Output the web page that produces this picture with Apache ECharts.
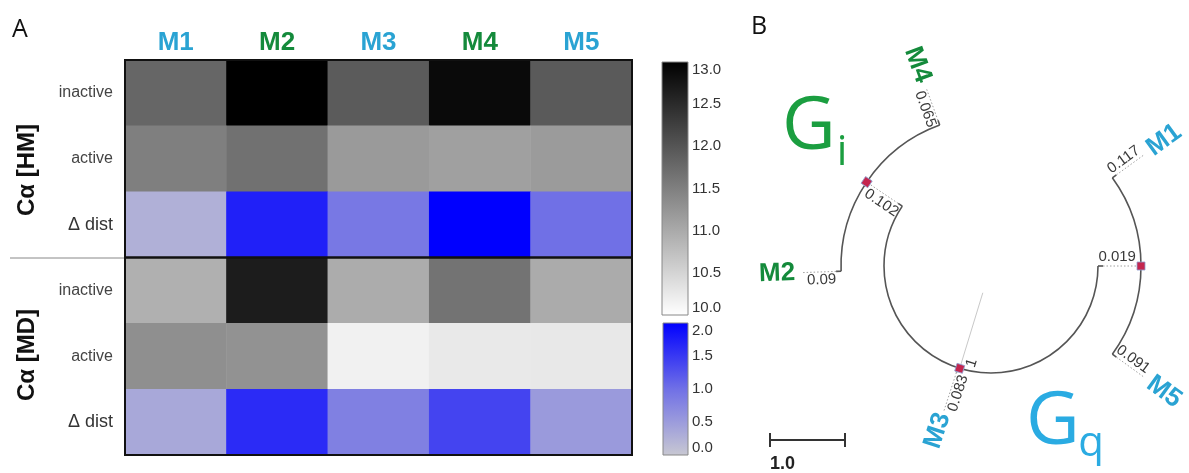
<!DOCTYPE html>
<html><head><meta charset="utf-8">
<script src="https://cdn.jsdelivr.net/npm/echarts@6/dist/echarts.min.js"></script>
<style>html,body{margin:0;padding:0;background:#fff}#c{width:1189px;height:473px}</style>
</head><body><div id="c"></div>
<script>
// ================= DATA =================
// Panel A – heatmap
const models      = ['M1', 'M2', 'M3', 'M4', 'M5'];
const modelFamily = ['q', 'i', 'q', 'i', 'q'];
const rowNames    = ['inactive', 'active', 'Δ dist', 'inactive', 'active', 'Δ dist'];
const blockNames  = ['Cα [HM]', 'Cα [MD]'];
const hmInactive  = [11.80, 13.00, 11.93, 12.88, 11.94];
const hmActive    = [11.51, 11.67, 11.19, 11.12, 11.18];
const hmDelta     = [0.27, 1.71, 0.91, 2.00, 1.00];
const mdInactive  = [10.93, 12.67, 10.98, 11.65, 10.99];
const mdActive    = [11.32, 11.28, 10.16, 10.26, 10.27];
const mdDelta     = [0.36, 1.62, 0.82, 1.39, 0.52];
const distRange   = [10, 13];
const deltaRange  = [0, 2];
const tickStep    = 0.5;

// Panel B – circular tree
const leafNames   = ['M1', 'M2', 'M3', 'M4', 'M5'];
const leafFamily  = ['q', 'i', 'q', 'i', 'q'];
const leafAngles  = [324, 178, 108, 250, 36];
const leafLengths = ['0.117', '0.09', '0.083', '0.065', '0.091'];
const cladeNames  = ['Gq', 'Gi'];
const cladeLeaves = [[0, 4], [1, 3]];       // first / last leaf, clockwise
const cladeLengths = ['0.019', '0.102'];
const rootLeaves  = [2];                    // leaves attached directly to the root
const rootSupport = '1';
const scaleBarLabel = '1.0';

// ================= STYLE =================
const FONT = '"Liberation Sans", Arial, sans-serif';
const BLUE = '#2aa3d3', GREEN = '#148a3b';
const famColor = f => f === 'q' ? BLUE : GREEN;
const grayColors = ['#ffffff', '#000000'];
const blueColors = ['#c8c8d2', '#7070e6', '#0000ff'];

// ================= HEATMAP DATA =================
const rowKeys = rowNames.map((n, i) => i + ':' + n);
const grayData = [], blueData = [];
[hmInactive, hmActive, hmDelta, mdInactive, mdActive, mdDelta].forEach((row, r) => {
  row.forEach((v, c) => ((r % 3 === 2) ? blueData : grayData).push([c, r, v]));
});

// ================= TREE LAYOUT =================
const R = {stem: 28, root: 107, clade: 150, stub: 5, leafDot: 190, leafText: 196, directDot: 45, directText: 48};
const norm = a => ((a % 360) + 360) % 360;
const cladeSpan = cladeLeaves.map(([s, e]) => {
  let a0 = leafAngles[s], a1 = leafAngles[e];
  if (a1 < a0) a1 += 360;
  return [a0, a1];
});
const cladeAngle = cladeSpan.map(([a0, a1]) => norm((a0 + a1) / 2));
let rootA0 = cladeAngle[0], rootA1 = cladeAngle[1];
if (rootA1 < rootA0) rootA1 += 360;
const rootAngle = norm((rootA0 + rootA1) / 2);

const arcs = [[R.root, rootA0, rootA1]].concat(cladeSpan.map(s => [R.clade, s[0], s[1]]));
const segs = []; // [r0, r1, angle, kind]  kind 0 stem, 1 solid, 2 dotted
segs.push([R.stem, R.root, rootAngle, 0]);
cladeAngle.forEach(a => { segs.push([R.root, R.root + R.stub, a, 1]); segs.push([R.root + R.stub, R.clade, a, 2]); });
cladeLeaves.forEach(pair => pair.forEach(li => {
  segs.push([R.clade, R.clade + R.stub, leafAngles[li], 1]);
  segs.push([R.clade + R.stub, R.leafDot, leafAngles[li], 2]);
}));
rootLeaves.forEach(li => {
  segs.push([R.root, R.root + R.stub, leafAngles[li], 1]);
  segs.push([R.root + R.stub, R.root + R.directDot, leafAngles[li], 2]);
});
const nodes = [[R.root, rootAngle]].concat(cladeAngle.map(a => [R.clade, a]));

const labelSpecs = [];
const inClade = new Set(cladeLeaves.flat());
leafNames.forEach((n, i) => {
  const direct = !inClade.has(i);
  labelSpecs.push({r: direct ? R.root + R.directText : R.leafText, a: leafAngles[i], text: n,
    color: famColor(leafFamily[i]), font: 'bold 26px ' + FONT, mode: 'start', off: 0});
  labelSpecs.push({r: direct ? R.root + R.directDot / 2 + 2 : (R.clade + R.leafDot) / 2, a: leafAngles[i],
    text: leafLengths[i], color: '#3a3a3a', font: '15px ' + FONT, mode: 'center', off: 8});
});
cladeAngle.forEach((a, i) => labelSpecs.push({r: (R.root + R.clade) / 2 - 2, a, text: cladeLengths[i],
  color: '#3a3a3a', font: '15px ' + FONT, mode: 'center', off: 9}));
labelSpecs.push({r: R.root - 8, a: rootAngle, text: rootSupport, color: '#3a3a3a', font: '15px ' + FONT, mode: 'center', off: 10});

function polarHelpers(params, api) {
  const cs = params.coordSys;
  const pt = (r, a) => api.coord([r, a]);
  const ang = (r, a) => { const p = pt(r, a); return Math.atan2(p[1] - cs.cy, p[0] - cs.cx); };
  const rad = r => { const p = pt(r, 0); return Math.hypot(p[0] - cs.cx, p[1] - cs.cy); };
  return {cs, pt, ang, rad};
}

// ================= CHART =================
const chart = echarts.init(document.getElementById('c'), null, {renderer: 'canvas'});
const hidden = {axisLine: {show: false}, axisTick: {show: false}, axisLabel: {show: false}, splitLine: {show: false}};
const txt = (x, y, text, font, fill, align, extra) => Object.assign({type: 'text', x, y,
  style: {text, font, fill, align, verticalAlign: 'middle', textAlign: align, textVerticalAlign: 'middle'}}, extra || {});

const option = {
  animation: false,
  backgroundColor: '#fff',
  grid: [
    {left: 125, top: 60, width: 507, height: 395},
    {left: 662, top: 62, width: 26, height: 253},
    {left: 663, top: 323, width: 25, height: 132}
  ],
  xAxis: [
    {gridIndex: 0, type: 'category', data: models, position: 'top',
     axisLine: {show: false}, axisTick: {show: false}, splitLine: {show: false},
     axisLabel: {margin: 4, fontSize: 26, fontWeight: 'bold', fontFamily: FONT,
       color: (v, i) => famColor(modelFamily[i])}},
    Object.assign({gridIndex: 1, type: 'value', min: 0, max: 1}, hidden),
    Object.assign({gridIndex: 2, type: 'value', min: 0, max: 1}, hidden)
  ],
  yAxis: [
    {gridIndex: 0, type: 'category', data: rowKeys, inverse: true,
     axisLine: {show: false}, axisTick: {show: false}, splitLine: {show: false},
     axisLabel: {margin: 12, formatter: (v, i) => (i % 3 === 2 ? '{d|' : '{n|') + rowNames[i] + '}',
       rich: {n: {fontSize: 16, color: '#444', fontFamily: FONT}, d: {fontSize: 18, color: '#333', fontFamily: FONT}}}},
    {gridIndex: 1, type: 'value', min: distRange[0], max: distRange[1], interval: tickStep, position: 'right',
     axisLine: {show: false}, axisTick: {show: false}, splitLine: {show: false},
     axisLabel: {margin: 4, fontSize: 15, color: '#333', fontFamily: FONT, formatter: v => v.toFixed(1),
       verticalAlignMinLabel: 'bottom', verticalAlignMaxLabel: 'top'}},
    {gridIndex: 2, type: 'value', min: deltaRange[0], max: deltaRange[1], interval: tickStep, position: 'right',
     axisLine: {show: false}, axisTick: {show: false}, splitLine: {show: false},
     axisLabel: {margin: 4, fontSize: 15, color: '#333', fontFamily: FONT, formatter: v => v.toFixed(1),
       verticalAlignMinLabel: 'bottom', verticalAlignMaxLabel: 'top'}}
  ],
  polar: {center: [991, 266], radius: 240},
  angleAxis: Object.assign({type: 'value', min: 0, max: 360, startAngle: 0, clockwise: true}, hidden),
  radiusAxis: Object.assign({type: 'value', min: 0, max: 240}, hidden),
  visualMap: [
    {type: 'continuous', show: false, seriesIndex: 0, dimension: 2, min: distRange[0], max: distRange[1], inRange: {color: grayColors}},
    {type: 'continuous', show: false, seriesIndex: 1, dimension: 2, min: deltaRange[0], max: deltaRange[1], inRange: {color: blueColors}}
  ],
  series: [
    {type: 'heatmap', xAxisIndex: 0, yAxisIndex: 0, data: grayData, itemStyle: {borderWidth: 0}, emphasis: {disabled: true}},
    {type: 'heatmap', xAxisIndex: 0, yAxisIndex: 0, data: blueData, itemStyle: {borderWidth: 0}, emphasis: {disabled: true}},
    {type: 'custom', xAxisIndex: 0, yAxisIndex: 0, data: [[0, 0, 4, 2], [0, 3, 4, 5]], z: 5,
     renderItem: (params, api) => {
       const a = api.coord([api.value(0), api.value(1)]), b = api.coord([api.value(2), api.value(3)]), s = api.size([1, 1]);
       return {type: 'rect', shape: {x: a[0] - s[0] / 2, y: a[1] - s[1] / 2, width: b[0] - a[0] + s[0], height: b[1] - a[1] + s[1]},
         style: {fill: 'none', stroke: '#111', lineWidth: 2}};
     }},
    {type: 'custom', xAxisIndex: 1, yAxisIndex: 1, data: [[0, distRange[1], 1, distRange[0]]],
     renderItem: (params, api) => {
       const a = api.coord([api.value(0), api.value(1)]), b = api.coord([api.value(2), api.value(3)]);
       return {type: 'rect', shape: {x: a[0], y: a[1], width: b[0] - a[0], height: b[1] - a[1]},
         style: {stroke: '#888', lineWidth: 1, fill: new echarts.graphic.LinearGradient(0, 0, 0, 1,
           [{offset: 0, color: grayColors[1]}, {offset: 1, color: grayColors[0]}])}};
     }},
    {type: 'custom', xAxisIndex: 2, yAxisIndex: 2, data: [[0, deltaRange[1], 1, deltaRange[0]]],
     renderItem: (params, api) => {
       const a = api.coord([api.value(0), api.value(1)]), b = api.coord([api.value(2), api.value(3)]);
       return {type: 'rect', shape: {x: a[0], y: a[1], width: b[0] - a[0], height: b[1] - a[1]},
         style: {stroke: '#888', lineWidth: 1, fill: new echarts.graphic.LinearGradient(0, 0, 0, 1,
           [{offset: 0, color: blueColors[2]}, {offset: 0.5, color: blueColors[1]}, {offset: 1, color: blueColors[0]}])}};
     }},
    // tree arcs
    {type: 'custom', coordinateSystem: 'polar', data: arcs, z: 3,
     renderItem: (params, api) => {
       const h = polarHelpers(params, api);
       const r = api.value(0), a0 = api.value(1), a1 = api.value(2);
       return {type: 'arc', shape: {cx: h.cs.cx, cy: h.cs.cy, r: h.rad(r), startAngle: h.ang(r, a0), endAngle: h.ang(r, a1), clockwise: true},
         style: {stroke: '#555', lineWidth: 1.6, fill: 'none'}};
     }},
    // tree radial segments
    {type: 'custom', coordinateSystem: 'polar', data: segs, z: 3,
     renderItem: (params, api) => {
       const h = polarHelpers(params, api);
       const p0 = h.pt(api.value(0), api.value(2)), p1 = h.pt(api.value(1), api.value(2)), k = api.value(3);
       const st = k === 0 ? {stroke: '#c8c8c8', lineWidth: 1} : k === 1 ? {stroke: '#555', lineWidth: 1.6} : {stroke: '#a0a0a0', lineWidth: 1, lineDash: [1.5, 2]};
       return {type: 'line', shape: {x1: p0[0], y1: p0[1], x2: p1[0], y2: p1[1]}, style: st};
     }},
    // nodes
    {type: 'custom', coordinateSystem: 'polar', data: nodes, z: 4,
     renderItem: (params, api) => {
       const h = polarHelpers(params, api);
       const p = h.pt(api.value(0), api.value(1)), th = h.ang(api.value(0), api.value(1));
       return {type: 'rect', x: p[0], y: p[1], rotation: -th, shape: {x: -4, y: -4, width: 8, height: 8},
         style: {fill: '#c4264f', stroke: '#8fa0d0', lineWidth: 0.8}};
     }},
    // labels
    {type: 'custom', coordinateSystem: 'polar', data: labelSpecs.map((L, i) => [L.r, L.a, i]), z: 5,
     renderItem: (params, api) => {
       const h = polarHelpers(params, api);
       const L = labelSpecs[api.value(2)];
       const dA = (L.off || 0) / L.r * 180 / Math.PI;
       const p = h.pt(L.r, L.a - dA);
       const th = h.ang(L.r, L.a);
       const right = Math.cos(th) >= 0;
       const rot = right ? -th : Math.PI - th;
       const align = L.mode === 'start' ? (right ? 'left' : 'right') : 'center';
       return {type: 'text', x: p[0], y: p[1], rotation: rot,
         style: {text: L.text, fill: L.color, font: L.font, align: align, verticalAlign: 'middle'}};
     }}
  ],
  graphic: [
    txt(12, 30, 'A', '25px "Open Sans", sans-serif', '#111', 'left'),
    txt(751, 27, 'B', '25px "Open Sans", sans-serif', '#111', 'left'),
    txt(27, 170, blockNames[0], 'bold 24px ' + FONT, '#111', 'center', {rotation: Math.PI / 2}),
    txt(27, 355, blockNames[1], 'bold 24px ' + FONT, '#111', 'center', {rotation: Math.PI / 2}),
    {type: 'line', shape: {x1: 10, y1: 258, x2: 125, y2: 258}, style: {stroke: '#888', lineWidth: 1}},
    txt(809, 128, 'G', '74px "Open Sans", sans-serif', '#1b9e40', 'center'),
    txt(842, 153, cladeNames[1].slice(1), '42px "Open Sans", sans-serif', '#1b9e40', 'center'),
    txt(1053, 423, 'G', '74px "Open Sans", sans-serif', '#2aabe2', 'center'),
    txt(1091, 444, cladeNames[0].slice(1), '42px "Open Sans", sans-serif', '#2aabe2', 'center'),
    {type: 'line', shape: {x1: 770, y1: 440, x2: 845, y2: 440}, style: {stroke: '#333', lineWidth: 2}},
    {type: 'line', shape: {x1: 770, y1: 433, x2: 770, y2: 447}, style: {stroke: '#333', lineWidth: 2}},
    {type: 'line', shape: {x1: 845, y1: 433, x2: 845, y2: 447}, style: {stroke: '#333', lineWidth: 2}},
    txt(770, 464, scaleBarLabel, 'bold 18px ' + FONT, '#222', 'left')
  ]
};
chart.setOption(option);
</script>
</body></html>
